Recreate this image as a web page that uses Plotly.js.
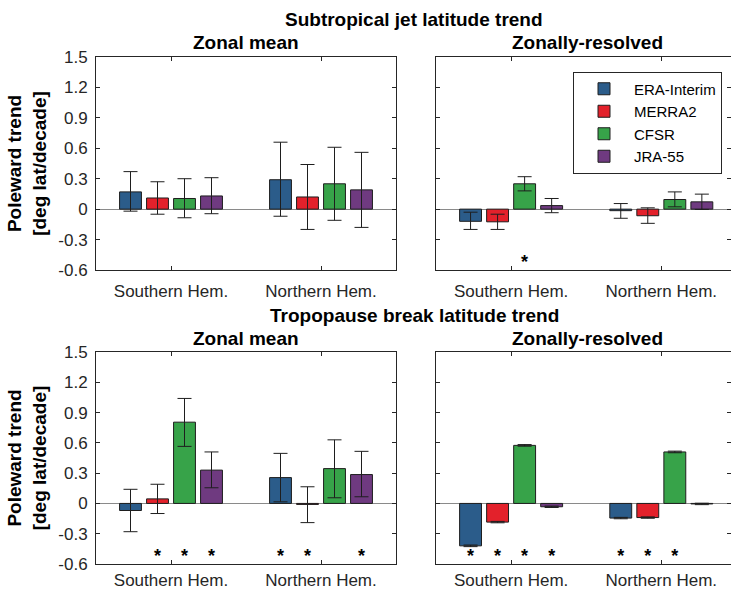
<!DOCTYPE html>
<html>
<head>
<meta charset="utf-8">
<script src="https://cdn.plot.ly/plotly-3.0.1.min.js"></script>
<style>
  html, body { margin: 0; padding: 0; background: #fff; }
  #chart { width: 731px; height: 592px; }
</style>
</head>
<body>
<div id="chart"></div>
<script>
// ---------- data ----------
const hemispheres = ['Southern Hem.', 'Northern Hem.'];
const reanalyses = ['ERA-Interim', 'MERRA2', 'CFSR', 'JRA-55'];
const colors = ['#2b5c8a', '#e3212b', '#37a349', '#6f3a80'];
const yTickVals = [-0.6, -0.3, 0, 0.3, 0.6, 0.9, 1.2, 1.5];
const yTickText = ['-0.6', '-0.3', '0', '0.3', '0.6', '0.9', '1.2', '1.5'];

// Each row: one reanalysis, values for [SH, NH]
// Subtropical jet, zonal mean
const jetZonalTrend = [[0.17, 0.29], [0.11, 0.12], [0.105, 0.25], [0.13, 0.19]];
const jetZonalHigh  = [[0.37, 0.66], [0.27, 0.44], [0.30, 0.61], [0.31, 0.56]];
const jetZonalLow   = [[-0.02, -0.07], [-0.05, -0.20], [-0.085, -0.11], [-0.045, -0.18]];
const jetZonalSig   = [[0, 0], [0, 0], [0, 0], [0, 0]];

// Subtropical jet, zonally-resolved
const jetResTrend = [[-0.12, -0.015], [-0.125, -0.065], [0.25, 0.095], [0.035, 0.072]];
const jetResHigh  = [[-0.03, 0.055], [-0.05, 0.013], [0.32, 0.17], [0.105, 0.148]];
const jetResLow   = [[-0.20, -0.09], [-0.20, -0.14], [0.18, 0.023], [-0.035, -0.003]];
const jetResSig   = [[0, 0], [0, 0], [1, 0], [0, 0]];

// Tropopause break, zonal mean
const tpbZonalTrend = [[-0.07, 0.256], [0.045, -0.01], [0.805, 0.345], [0.33, 0.286]];
const tpbZonalHigh  = [[0.14, 0.496], [0.19, 0.165], [1.04, 0.63], [0.51, 0.516]];
const tpbZonalLow   = [[-0.28, 0.016], [-0.10, -0.19], [0.565, 0.056], [0.155, 0.066]];
const tpbZonalSig   = [[0, 1], [1, 1], [1, 0], [1, 1]];

// Tropopause break, zonally-resolved
const tpbResTrend = [[-0.42, -0.145], [-0.185, -0.14], [0.575, 0.51], [-0.033, -0.005]];
const tpbResHigh  = [[-0.412, -0.138], [-0.178, -0.133], [0.583, 0.518], [-0.026, 0.002]];
const tpbResLow   = [[-0.428, -0.152], [-0.192, -0.147], [0.567, 0.502], [-0.040, -0.012]];
const tpbResSig   = [[1, 1], [1, 1], [1, 1], [1, 0]];

const starLevel = -0.54;

// ---------- build ----------
const W = 731, H = 592;
const BARGAP = 0.28, BARGROUPGAP = 0.19;
const slot = (1 - BARGAP) / reanalyses.length;
const xPos = hemispheres.map((h, i) => i + 1);

const panels = [
  {trend: jetZonalTrend, high: jetZonalHigh, low: jetZonalLow, sig: jetZonalSig, xa: 'x',  ya: 'y'},
  {trend: jetResTrend,   high: jetResHigh,   low: jetResLow,   sig: jetResSig,   xa: 'x2', ya: 'y2'},
  {trend: tpbZonalTrend, high: tpbZonalHigh, low: tpbZonalLow, sig: tpbZonalSig, xa: 'x3', ya: 'y3'},
  {trend: tpbResTrend,   high: tpbResHigh,   low: tpbResLow,   sig: tpbResSig,   xa: 'x4', ya: 'y4'}
];

const traces = [];
panels.forEach((p, pi) => {
  reanalyses.forEach((name, k) => {
    const v = p.trend[k];
    traces.push({
      type: 'bar',
      name: name,
      showlegend: pi === 1,
      x: xPos,
      y: v,
      xaxis: p.xa, yaxis: p.ya,
      marker: {color: colors[k], line: {color: '#1e1e1e', width: 1}},
      error_y: {
        type: 'data', symmetric: false,
        array: v.map((val, j) => p.high[k][j] - val),
        arrayminus: v.map((val, j) => val - p.low[k][j]),
        color: '#1e1e1e', thickness: 1, width: 7
      },
      hoverinfo: 'name+y'
    });
  });
  const sx = [], sy = [];
  reanalyses.forEach((name, k) => {
    hemispheres.forEach((h, j) => {
      if (p.sig[k][j]) {
        sx.push(xPos[j] + (k - (reanalyses.length - 1) / 2) * slot);
        sy.push(starLevel);
      }
    });
  });
  traces.push({
    type: 'scatter', mode: 'text', x: sx, y: sy, text: sx.map(() => '*'),
    textposition: 'middle center',
    textfont: {size: 18, color: '#000', family: 'Liberation Sans, Arial, sans-serif', weight: 'bold'},
    xaxis: p.xa, yaxis: p.ya, showlegend: false, hoverinfo: 'skip'
  });
});

const axisColor = '#262626';
const fontFam = 'Liberation Sans, Arial, Helvetica, sans-serif';
function xAxis(domain, range, anchor, standoff) {
  return {
    domain: domain, range: range, anchor: anchor,
    tickvals: xPos, ticktext: hemispheres,
    ticks: 'inside', ticklen: 4, tickcolor: axisColor,
    showline: true, linecolor: axisColor, linewidth: 1, mirror: 'ticks',
    showgrid: false, zeroline: false,
    tickfont: {size: 17, color: axisColor, family: fontFam},
    ticklabelstandoff: standoff, fixedrange: true
  };
}
function yAxis(domain, anchor, labels) {
  const ax = {
    domain: domain, range: [-0.6, 1.5], anchor: anchor,
    tickvals: yTickVals, ticktext: yTickText, showticklabels: labels,
    ticks: 'inside', ticklen: 4, tickcolor: axisColor,
    showline: true, linecolor: axisColor, linewidth: 1, mirror: 'ticks',
    showgrid: false, zeroline: true, zerolinecolor: '#8a8a8a', zerolinewidth: 1,
    tickfont: {size: 17, color: axisColor, family: fontFam},
    ticklabelstandoff: 4, fixedrange: true
  };
  if (labels) {
    ax.title = {text: 'Poleward trend<br>[deg lat/decade]', standoff: 6,
                font: {size: 19, color: '#000', family: fontFam, weight: 'bold'}};
  }
  return ax;
}

const leftX = [96 / W, 396 / W];
const rightX = [436 / W, 1];
const pxPerUnit = 150.2;
const rightRange = [0.5, 0.5 + (W - 436) / pxPerUnit];
const topY = [1 - 270 / H, 1 - 57 / H];
const botY = [1 - 564 / H, 1 - 352 / H];

function title(text, xpx, ypx) {
  return {text: text, x: xpx / W, y: 1 - ypx / H, xref: 'paper', yref: 'paper',
          xanchor: 'center', yanchor: 'middle', showarrow: false,
          font: {size: 19, color: '#000', family: fontFam, weight: 'bold'}};
}

const layout = {
  width: W, height: H,
  margin: {l: 0, r: 0, t: 0, b: 0},
  paper_bgcolor: '#fff', plot_bgcolor: '#fff',
  barmode: 'group', bargap: BARGAP, bargroupgap: BARGROUPGAP,
  font: {family: fontFam, color: axisColor},
  showlegend: true,
  legend: {
    x: 573 / W, y: 1 - 71.5 / H, xanchor: 'left', yanchor: 'top',
    bordercolor: axisColor, borderwidth: 1, bgcolor: '#fff',
    font: {size: 15, color: '#000', family: fontFam},
    itemwidth: 50, tracegroupgap: 0
  },
  xaxis:  xAxis(leftX, [0.5, 2.5], 'y', 6),
  yaxis:  yAxis(topY, 'x', true),
  xaxis2: xAxis(rightX, rightRange, 'y2', 6),
  yaxis2: yAxis(topY, 'x2', false),
  xaxis3: xAxis(leftX, [0.5, 2.5], 'y3', 1),
  yaxis3: yAxis(botY, 'x3', true),
  xaxis4: xAxis(rightX, rightRange, 'y4', 1),
  yaxis4: yAxis(botY, 'x4', false),
  annotations: [
    title('Subtropical jet latitude trend', 414, 20),
    title('Zonal mean', 246, 43),
    title('Zonally-resolved', 587, 43),
    title('Tropopause break latitude trend', 414, 315),
    title('Zonal mean', 246, 338),
    title('Zonally-resolved', 587, 338)
  ]
};

Plotly.newPlot('chart', traces, layout, {displayModeBar: false, staticPlot: true});
</script>
</body>
</html>
